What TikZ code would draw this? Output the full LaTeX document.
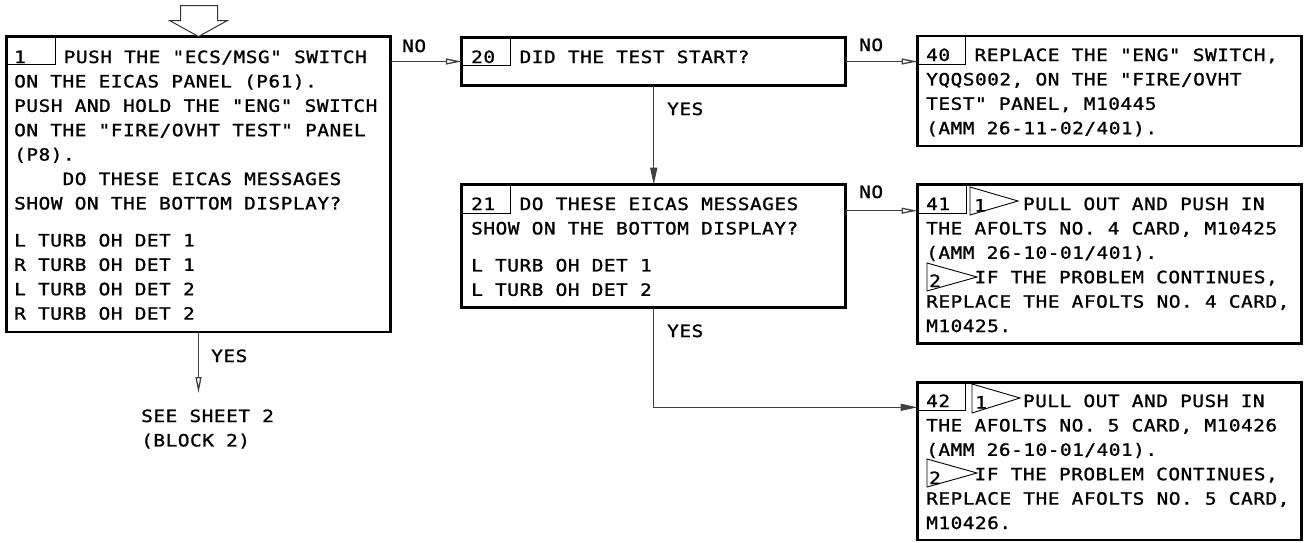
\documentclass[tikz,border=0pt]{standalone}
\usepackage{fontspec}
\newfontfamily\eicas{DejaVu Sans Mono}[FakeStretch=1.15,LetterSpace=3,FakeBold=1.2]
\usetikzlibrary{arrows.meta}
\newcommand{\eicasfont}{\eicas\fontsize{16.9}{24.4}\selectfont}
\begin{document}
\begin{tikzpicture}[x=1pt,y=-1pt,
  boxst/.style={draw, line width=2.8pt, inner sep=0pt, outer sep=0pt, minimum width=384pt},
  cellst/.style={draw, line width=0.9pt},
  conn/.style={draw=black!75, line width=1.3pt},
  openhead/.style={-{Triangle[open,length=16pt,width=6pt]}},
  fillhead/.style={-{Triangle[length=17pt,width=7pt]}},
  txt/.style={anchor=base west, inner sep=0pt, font=\eicasfont},
  flagst/.style={draw, line width=0.9pt}]
\useasboundingbox (0,0) rectangle (1304,542);

% boxes
\node[boxst, minimum height=295.5pt] (b1) at (198.5,184.25) {};
\node[boxst, minimum height=48.4pt] (b20) at (653.75,61.5) {};
\node[boxst, minimum height=123pt] (b21) at (653.75,246.2) {};
\node[boxst, minimum height=110pt] (b40) at (1109.5,91) {};
\node[boxst, minimum height=159pt] (b41) at (1109.5,264.2) {};
\node[boxst, minimum height=157.7pt] (b42) at (1109.5,461.15) {};

% number cells
\draw[cellst] (b1.north west) rectangle ++(48.5,28.4);
\draw[cellst] (b20.north west) rectangle ++(48.5,28.4);
\draw[cellst] (b21.north west) rectangle ++(48.5,28.4);
\draw[cellst] (b40.north west) rectangle ++(47.5,28);
\draw[cellst] (b41.north west) rectangle ++(48.5,28.3);
\draw[cellst] (b42.north west) rectangle ++(47.5,27.7);

% texts
\node[txt] (t1) at (14,63) {\begin{tabular}[t]{@{}l@{}}
\makebox[49.5pt][l]{1}PUSH THE "ECS/MSG" SWITCH\\
ON THE EICAS PANEL (P61).\\
PUSH AND HOLD THE "ENG" SWITCH\\
ON THE "FIRE/OVHT TEST" PANEL\\
(P8).\\
\hspace*{48.4pt}DO THESE EICAS MESSAGES\\
SHOW ON THE BOTTOM DISPLAY?\\[12.6pt]
L TURB OH DET 1\\
R TURB OH DET 1\\
L TURB OH DET 2\\
R TURB OH DET 2
\end{tabular}};

\node[txt] (t20) at (471,63) {\makebox[48.4pt][l]{20}DID THE TEST START?};

\node[txt] (t21) at (471,210) {\begin{tabular}[t]{@{}l@{}}
\makebox[48.4pt][l]{21}DO THESE EICAS MESSAGES\\
SHOW ON THE BOTTOM DISPLAY?\\[12.6pt]
L TURB OH DET 1\\
L TURB OH DET 2
\end{tabular}};

\node[txt] (t40) at (926,61) {\begin{tabular}[t]{@{}l@{}}
\makebox[48.4pt][l]{40}REPLACE THE "ENG" SWITCH,\\
YQQS002, ON THE "FIRE/OVHT\\
TEST" PANEL, M10445\\
(AMM 26-11-02/401).
\end{tabular}};

\node[txt] (t41) at (926,210) {\begin{tabular}[t]{@{}l@{}}
\makebox[96.8pt][l]{41}PULL OUT AND PUSH IN\\
THE AFOLTS NO. 4 CARD, M10425\\
(AMM 26-10-01/401).\\
\hspace*{48.4pt}IF THE PROBLEM CONTINUES,\\
REPLACE THE AFOLTS NO. 4 CARD,\\
M10425.
\end{tabular}};

\node[txt] (t42) at (926,407) {\begin{tabular}[t]{@{}l@{}}
\makebox[96.8pt][l]{42}PULL OUT AND PUSH IN\\
THE AFOLTS NO. 5 CARD, M10426\\
(AMM 26-10-01/401).\\
\hspace*{48.4pt}IF THE PROBLEM CONTINUES,\\
REPLACE THE AFOLTS NO. 5 CARD,\\
M10426.
\end{tabular}};

% flags
\draw[flagst] (970,187) -- (970,215) -- (1018,201) -- cycle;
\node[txt] (f41a) at (974,211.5) {1};
\draw[flagst] (927,263) -- (927,291) -- (977,277) -- cycle;
\node[txt] (f41b) at (929,287) {2};
\draw[flagst] (972,384) -- (972,413) -- (1020,398) -- cycle;
\node[txt] (f42a) at (975,408.5) {1};
\draw[flagst] (927,459) -- (927,487) -- (977,473) -- cycle;
\node[txt] (f42b) at (929,484) {2};

% input arrow
\draw[line width=1pt, draw=black!80, fill=white] (b1.north) -- ++(-29,-16) -- ++(11,0) -- ++(0,-15) -- ++(37,0) -- ++(0,15) -- ++(10,0) -- cycle;

% connectors
\draw[conn, openhead] (b1.east |- b20.west) -- (b20.west);
\node[txt] (l1) at (402,52) {NO};
\draw[conn, openhead] (b20.east) -- (b20.east -| b40.west);
\node[txt] (l2) at (859,51) {NO};
\draw[conn, fillhead] (b20.south) -- (b21.north);
\node[txt] (l3) at (667,115) {YES};
\draw[conn, openhead] ([yshift=-26pt]b21.north east) -- ([yshift=-26pt]b41.north west);
\node[txt] (l4) at (859,198) {NO};
\draw[conn, fillhead] (b21.south) |- ([yshift=-25pt]b42.north west);
\node[txt] (l5) at (667,337) {YES};
\coordinate (e1) at (198.5,393);
\draw[conn, openhead] (b1.south) -- (e1);
\node[txt] (l6) at (211,362) {YES};
\node[txt] (s2) at (141,422) {\begin{tabular}[t]{@{}l@{}}SEE SHEET 2\\(BLOCK 2)\end{tabular}};
\end{tikzpicture}
\end{document}
